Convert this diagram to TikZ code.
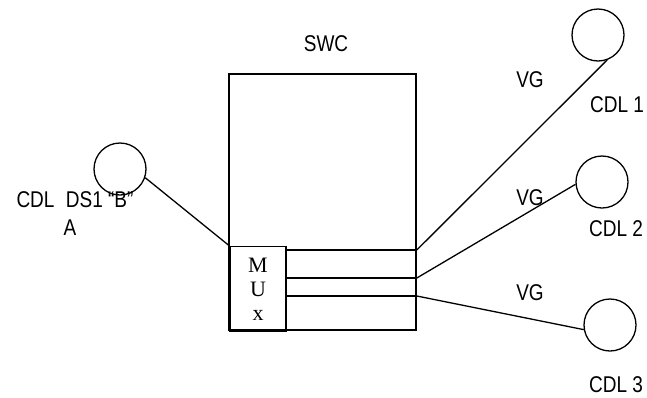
\documentclass[tikz,border=0pt]{standalone}
\usepackage{fontspec}
\setmainfont{Liberation Sans}
\newfontfamily\muxfont{Liberation Serif}
\usetikzlibrary{positioning,calc}

\begin{document}
\begin{tikzpicture}[
    x=1pt, y=-1pt,
    box/.style={rectangle, draw, line width=1.6pt, inner sep=0pt},
    cdl/.style={circle, draw, line width=1.3pt, minimum size=52pt, inner sep=0pt},
    wire/.style={line width=1.3pt},
    lbl/.style={font=\fontsize{19}{22}\selectfont, inner sep=0pt, yscale=1.2, transform shape}
]
\useasboundingbox (0,0) rectangle (647,397);

% Switch and multiplexer
\node[box, minimum width=187pt, minimum height=256pt] (swc) at (322.5,202) {};
\node[lbl] (swclbl) at (326,44) {SWC};
\node[box, minimum width=56pt, minimum height=85pt, align=center,
      font=\muxfont\fontsize{22}{24}\selectfont] (mux) at (258,289) {M\\U\\x};

% Line ends on the switch edge
\coordinate (p1) at (swc.east |- 0,250);
\coordinate (p2) at (swc.east |- 0,278);
\coordinate (p3) at (swc.east |- 0,296);

% Circuits
\node[cdl] (ds1) at (120,169) {};
\node[lbl] (ds1lbl) at (75,200) {CDL\hspace{0.6em}DS1 “B”};
\node[lbl] (ds1a) at (70,228) {A};
\node[cdl] (cdl1) at (598,35) {};
\node[lbl] (cdl1lbl) at (617,105) {CDL 1};
\node[cdl] (cdl2) at (602,182) {};
\node[lbl] (cdl2lbl) at (616,229) {CDL 2};
\node[cdl] (cdl3) at (610,325) {};
\node[lbl] (cdl3lbl) at (616,385) {CDL 3};

% VG labels
\node[lbl] (vg1) at (530,80) {VG};
\node[lbl] (vg2) at (530,198) {VG};
\node[lbl] (vg3) at (530,293) {VG};

% Wires
\draw[wire] (mux.east |- p1) -- (p1);
\draw[wire] (mux.east |- p2) -- (p2);
\draw[wire] (mux.east |- p3) -- (p3);
\draw[wire] (ds1.-19) -- (mux.north west);
\draw[wire] (p1) -- (cdl1.-70);
\draw[wire] (p2) -- (cdl2.185);
\draw[wire] (p3) -- (cdl3.190);

\end{tikzpicture}
\end{document}
